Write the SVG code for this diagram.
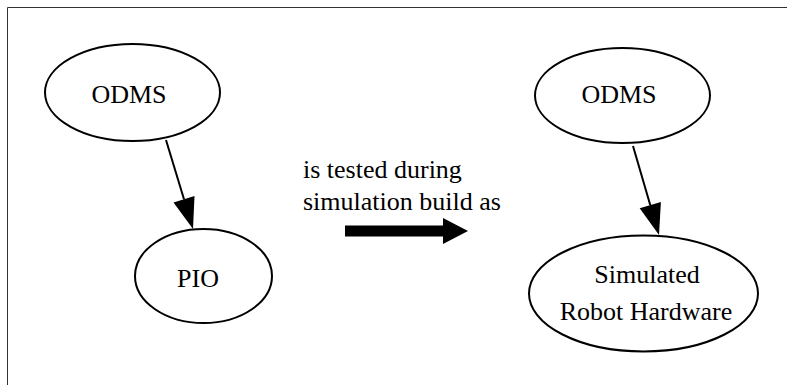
<svg xmlns="http://www.w3.org/2000/svg" width="787" height="385" viewBox="0 0 787 385">
<style>
.node ellipse{fill:#fff;stroke:#000;stroke-width:2}
text{font-family:"Liberation Serif","Times New Roman",serif;font-size:26px;fill:#000}
.c{text-anchor:middle}
.edge line{stroke:#000;stroke-width:2}
.edge polygon{fill:#000}
</style>
<rect width="787" height="385" fill="#fff"/>
<path d="M7.5 385 V7.5 H787" fill="none" stroke="#333" stroke-width="1"/>
<g id="odms-left" class="node"><ellipse cx="132.5" cy="92.5" rx="87.5" ry="48.5"/><text class="c" x="129" y="103">ODMS</text></g>
<g id="pio" class="node"><ellipse cx="203.5" cy="276" rx="68.5" ry="47"/><text class="c" x="198" y="287">PIO</text></g>
<g id="odms-right" class="node"><ellipse cx="622.5" cy="95.5" rx="87.5" ry="47.5"/><text class="c" x="619" y="103">ODMS</text></g>
<g id="sim-robot" class="node"><ellipse cx="643.5" cy="293.5" rx="114.5" ry="58"/><text class="c" x="647" y="283">Simulated</text><text class="c" x="646" y="320">Robot Hardware</text></g>
<g id="label"><text x="303" y="178">is tested during</text><text x="303" y="210">simulation build as</text></g>
<g id="connectors" class="edge">
<line x1="166" y1="140" x2="184" y2="199.3"/><polygon points="194.5,196.1 173.5,202.5 193,229"/>
<line x1="633" y1="146" x2="650.3" y2="205.2"/><polygon points="660.9,202.1 639.7,208.3 659,235"/>
<polygon points="345,225.5 443,225.5 443,218 468,231 443,244 443,236.5 345,236.5"/>
</g>
</svg>
